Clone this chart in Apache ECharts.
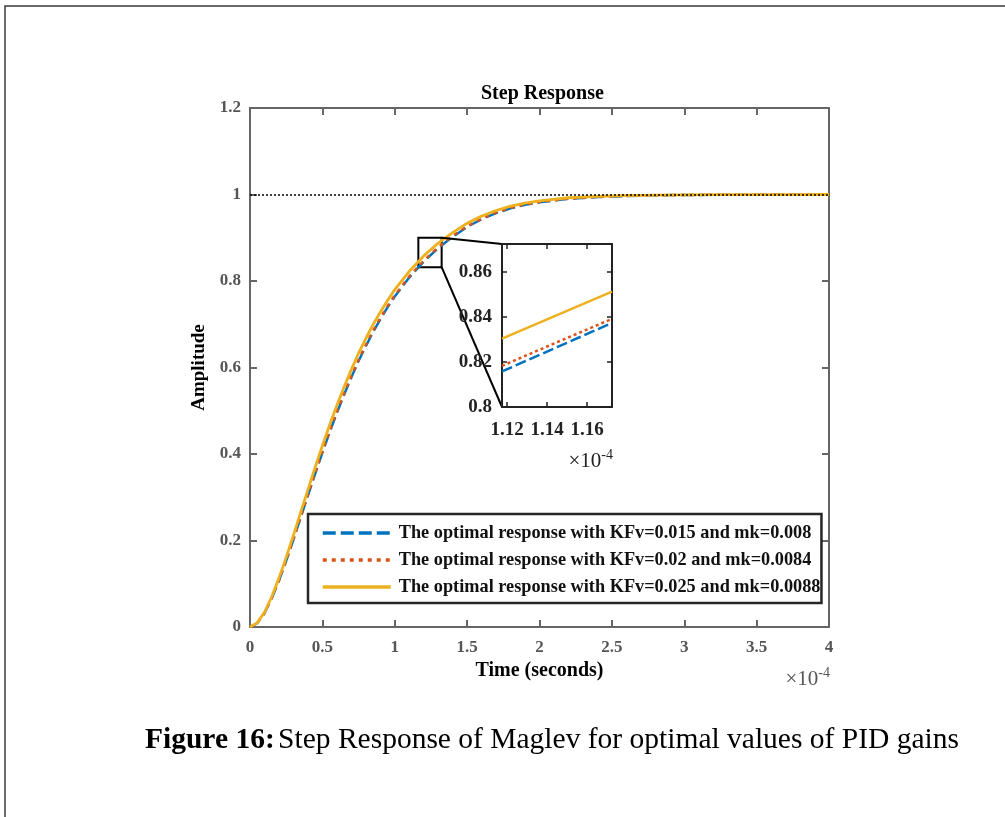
<!DOCTYPE html>
<html>
<head>
<meta charset="utf-8">
<title>Step Response of Maglev</title>
<script src="https://cdn.jsdelivr.net/npm/echarts@6/dist/echarts.min.js"></script>
<style>
  html, body { margin: 0; padding: 0; background: #ffffff; }
  #chart { width: 1005px; height: 817px; }
</style>
</head>
<body>
<div id="chart"></div>
<script>
// Time axis in units of 1e-4 s
const timeE4 = [0, 0.05, 0.1, 0.15, 0.2, 0.25, 0.3, 0.35, 0.4, 0.45, 0.5, 0.55, 0.6, 0.65, 0.7, 0.75,
  0.8, 0.85, 0.9, 0.95, 1.0, 1.1, 1.2, 1.3, 1.4, 1.5, 1.6, 1.7, 1.8, 1.9, 2.0, 2.2, 2.4, 2.6, 2.8,
  3.0, 3.25, 3.5, 3.75, 4.0];

// Step responses for the three optimal gain sets
const respKFv015 = [0, 0.009, 0.032, 0.066, 0.107, 0.153, 0.202, 0.253, 0.304, 0.354, 0.403, 0.450,
  0.495, 0.537, 0.577, 0.615, 0.649, 0.682, 0.711, 0.739, 0.764, 0.808, 0.845, 0.876, 0.902, 0.925,
  0.943, 0.957, 0.968, 0.976, 0.982, 0.990, 0.994, 0.9965, 0.998, 0.9988, 0.9994, 0.9997, 0.9999, 1.0];
const respKFv02 = [0, 0.009, 0.032, 0.067, 0.108, 0.154, 0.204, 0.255, 0.306, 0.357, 0.406, 0.453,
  0.498, 0.540, 0.580, 0.618, 0.652, 0.685, 0.714, 0.742, 0.767, 0.8105, 0.847, 0.878, 0.904, 0.9265,
  0.944, 0.958, 0.969, 0.977, 0.9826, 0.9904, 0.9943, 0.9967, 0.9981, 0.9989, 0.9994, 0.9997, 0.9999, 1.0];
const respKFv025 = [0, 0.0095, 0.034, 0.070, 0.113, 0.161, 0.212, 0.265, 0.317, 0.369, 0.419, 0.467,
  0.512, 0.555, 0.595, 0.633, 0.667, 0.699, 0.728, 0.755, 0.780, 0.8225, 0.858, 0.8875, 0.912, 0.9335,
  0.950, 0.963, 0.973, 0.980, 0.9855, 0.9925, 0.9955, 0.9975, 0.9986, 0.9992, 0.9996, 0.9998, 0.9999, 1.0];

// Zoomed-in detail around t = 1.12e-4 .. 1.17e-4
const zoomTimeE4 = [1.1175, 1.145, 1.1725];
const zoomKFv015 = [0.8158, 0.8266, 0.8374];
const zoomKFv02 = [0.8183, 0.8288, 0.8392];
const zoomKFv025 = [0.8304, 0.8409, 0.8513];
const zoomXTicks = [1.12, 1.14, 1.16];
const zoomYTicks = [0.8, 0.82, 0.84, 0.86];
const zoomYRange = [0.8, 0.8725];

// Region of the main plot that the detail view magnifies
const zoomRegionT = [1.163, 1.324];
const zoomRegionY = [0.832, 0.900];

const steadyState = 1;

const seriesNames = [
  'The optimal response with KFv=0.015 and mk=0.008',
  'The optimal response with KFv=0.02 and mk=0.0084',
  'The optimal response with KFv=0.025 and mk=0.0088'
];

const FONT = "'Liberation Serif', 'Times New Roman', serif";
const AXIS_GRAY = '#666666';
const LABEL_GRAY = '#555555';
const C_BLUE = '#0072BD', C_RED = '#D95319', C_YELLOW = '#EDB120';

const pairs = (xs, ys) => xs.map((x, i) => [x, ys[i]]);

const chart = echarts.init(document.getElementById('chart'), null, { renderer: 'canvas' });

function frameAxis(gridIndex, position, color, lineW, showLabel, extra) {
  return Object.assign({
    type: 'value',
    gridIndex: gridIndex,
    position: position,
    axisLine: { show: true, onZero: false, lineStyle: { color: color, width: lineW } },
    axisTick: { show: true, inside: true, length: 7, lineStyle: { color: color, width: lineW } },
    axisLabel: { show: showLabel },
    splitLine: { show: false }
  }, extra || {});
}

const mainLabel = { show: true, color: LABEL_GRAY, fontFamily: FONT, fontWeight: 'bold', fontSize: 17, margin: 9 };
const zoomLabel = { show: true, color: '#222222', fontFamily: FONT, fontWeight: 'bold', fontSize: 19, margin: 10 };
const nameStyle = { fontFamily: FONT, fontWeight: 'bold', fontSize: 20, color: '#000000' };
const zoomTickStyle = { show: true, inside: true, length: 5, customValues: zoomXTicks,
  lineStyle: { color: '#222222', width: 1.5 } };
const zoomYTickStyle = Object.assign({}, zoomTickStyle, { customValues: zoomYTicks });

const option = {
  backgroundColor: '#ffffff',
  animation: false,
  title: {
    text: 'Step Response',
    left: 476, top: 79,
    textStyle: { fontFamily: FONT, fontWeight: 'bold', fontSize: 20, color: '#000000' }
  },
  grid: [
    { left: 250, top: 108, width: 579, height: 519, containLabel: false },
    { left: 502, top: 244, width: 110, height: 163, containLabel: false, show: true,
      backgroundColor: '#ffffff', borderWidth: 0, z: 5 }
  ],
  xAxis: [
    frameAxis(0, 'bottom', AXIS_GRAY, 2, true, {
      min: 0, max: 4, interval: 0.5, axisLabel: Object.assign({}, mainLabel, { margin: 12 }),
      name: 'Time (seconds)', nameLocation: 'middle', nameGap: 34, nameTextStyle: nameStyle
    }),
    frameAxis(0, 'top', AXIS_GRAY, 2, false, { min: 0, max: 4, interval: 0.5 }),
    frameAxis(1, 'bottom', '#222222', 2, true, {
      min: zoomTimeE4[0], max: zoomTimeE4[zoomTimeE4.length - 1], z: 6,
      axisLabel: Object.assign({}, zoomLabel, { margin: 14, customValues: zoomXTicks,
        formatter: v => Number(v).toFixed(2) }),
      axisTick: zoomTickStyle
    }),
    frameAxis(1, 'top', '#222222', 2, false, {
      min: zoomTimeE4[0], max: zoomTimeE4[zoomTimeE4.length - 1], z: 6,
      axisTick: zoomTickStyle
    })
  ],
  yAxis: [
    frameAxis(0, 'left', AXIS_GRAY, 2, true, {
      min: 0, max: 1.2, interval: 0.2, axisLabel: mainLabel,
      name: 'Amplitude', nameLocation: 'middle', nameGap: 40, nameRotate: 90,
      nameTextStyle: Object.assign({}, nameStyle, { fontSize: 19 })
    }),
    frameAxis(0, 'right', AXIS_GRAY, 2, false, { min: 0, max: 1.2, interval: 0.2 }),
    frameAxis(1, 'left', '#222222', 2, true, {
      min: zoomYRange[0], max: zoomYRange[1], z: 6,
      axisLabel: Object.assign({}, zoomLabel, { customValues: zoomYTicks,
        formatter: v => (Math.abs(v - 0.8) < 1e-9 ? '0.8' : Number(v).toFixed(2)) }),
      axisTick: zoomYTickStyle
    }),
    frameAxis(1, 'right', '#222222', 2, false, {
      min: zoomYRange[0], max: zoomYRange[1], z: 6,
      axisTick: zoomYTickStyle
    })
  ],
  legend: {
    orient: 'vertical',
    left: 308, top: 514,
    data: seriesNames,
    itemWidth: 68, itemHeight: 18, itemGap: 9,
    padding: [10, 1, 7, 13],
    borderColor: '#262626', borderWidth: 2.5,
    backgroundColor: '#ffffff',
    selectedMode: false,
    itemStyle: { opacity: 0 },
    lineStyle: { width: 3.5 },
    textStyle: { fontFamily: FONT, fontWeight: 'bold', fontSize: 18.3, color: '#111111', padding: [0, 0, 0, 3] }
  },
  series: [
    {
      name: seriesNames[0], type: 'line', xAxisIndex: 0, yAxisIndex: 0,
      data: pairs(timeE4, respKFv015), showSymbol: false, symbol: 'none', clip: true,
      lineStyle: { color: C_BLUE, width: 2.5, type: [13, 5] },
      itemStyle: { color: C_BLUE },
      markLine: {
        silent: true, symbol: 'none', label: { show: false },
        lineStyle: { color: '#000000', width: 1.5, type: [2, 2] },
        data: [{ yAxis: steadyState }]
      },
      markArea: {
        silent: true,
        itemStyle: { color: 'rgba(0,0,0,0)', borderColor: '#000000', borderWidth: 2 },
        data: [[{ coord: [zoomRegionT[0], zoomRegionY[1]] }, { coord: [zoomRegionT[1], zoomRegionY[0]] }]]
      }
    },
    {
      name: seriesNames[1], type: 'line', xAxisIndex: 0, yAxisIndex: 0,
      data: pairs(timeE4, respKFv02), showSymbol: false, symbol: 'none', clip: true,
      lineStyle: { color: C_RED, width: 2.5, type: [4, 5] },
      itemStyle: { color: C_RED }
    },
    {
      name: seriesNames[2], type: 'line', xAxisIndex: 0, yAxisIndex: 0,
      data: pairs(timeE4, respKFv025), showSymbol: false, symbol: 'none', clip: true,
      lineStyle: { color: C_YELLOW, width: 2.8 },
      itemStyle: { color: C_YELLOW }
    },
    {
      name: seriesNames[0], type: 'line', xAxisIndex: 2, yAxisIndex: 2, z: 7,
      data: pairs(zoomTimeE4, zoomKFv015), showSymbol: false, symbol: 'none', clip: true,
      lineStyle: { color: C_BLUE, width: 2.5, type: [11, 4] }
    },
    {
      name: seriesNames[1], type: 'line', xAxisIndex: 2, yAxisIndex: 2, z: 7,
      data: pairs(zoomTimeE4, zoomKFv02), showSymbol: false, symbol: 'none', clip: true,
      lineStyle: { color: C_RED, width: 2.5, type: [3, 3] }
    },
    {
      name: seriesNames[2], type: 'line', xAxisIndex: 2, yAxisIndex: 2, z: 7,
      data: pairs(zoomTimeE4, zoomKFv025), showSymbol: false, symbol: 'none', clip: true,
      lineStyle: { color: C_YELLOW, width: 2.5 }
    }
  ],
  graphic: [
    {
      id: 'frame', type: 'rect', silent: true, z: 0,
      shape: { x: 5, y: 6, width: 1100, height: 900 },
      style: { fill: 'none', stroke: '#3a3a3a', lineWidth: 1.5 }
    },
    {
      id: 'mainExp', type: 'text', silent: true,
      x: 830, y: 679,
      style: {
        text: '{m|×10}{e|-4}', align: 'right', verticalAlign: 'middle',
        rich: {
          m: { fontFamily: FONT, fontSize: 21, fill: LABEL_GRAY },
          e: { fontFamily: FONT, fontSize: 14, fill: LABEL_GRAY, verticalAlign: 'top', padding: [0, 0, 11, 0] }
        }
      }
    },
    {
      id: 'zoomExp', type: 'text', silent: true,
      x: 613, y: 461,
      style: {
        text: '{m|×10}{e|-4}', align: 'right', verticalAlign: 'middle',
        rich: {
          m: { fontFamily: FONT, fontSize: 21, fill: '#222222' },
          e: { fontFamily: FONT, fontSize: 14, fill: '#222222', verticalAlign: 'top', padding: [0, 0, 11, 0] }
        }
      }
    },
    {
      id: 'caption', type: 'text', silent: true,
      x: 145, y: 740,
      style: {
        text: '{b|Figure 16:} {n|Step Response of Maglev for optimal values of PID gains}',
        verticalAlign: 'middle',
        rich: {
          b: { fontFamily: FONT, fontWeight: 'bold', fontSize: 29.5, fill: '#000000' },
          n: { fontFamily: FONT, fontSize: 29.5, fill: '#000000' }
        }
      }
    }
  ]
};

chart.setOption(option);

// Connector lines from the magnified region to the detail axes
const rTop = chart.convertToPixel({ gridIndex: 0 }, [zoomRegionT[1], zoomRegionY[1]]);
const rBot = chart.convertToPixel({ gridIndex: 0 }, [zoomRegionT[1], zoomRegionY[0]]);
const iTop = chart.convertToPixel({ gridIndex: 1 }, [zoomTimeE4[0], zoomYRange[1]]);
const iBot = chart.convertToPixel({ gridIndex: 1 }, [zoomTimeE4[0], zoomYRange[0]]);
chart.setOption({
  graphic: [
    { id: 'linkTop', type: 'line', silent: true, z: 4,
      shape: { x1: rTop[0], y1: rTop[1], x2: iTop[0], y2: iTop[1] },
      style: { stroke: '#000000', lineWidth: 2 } },
    { id: 'linkBot', type: 'line', silent: true, z: 4,
      shape: { x1: rBot[0], y1: rBot[1], x2: iBot[0], y2: iBot[1] },
      style: { stroke: '#000000', lineWidth: 2 } }
  ]
});
</script>
</body>
</html>
